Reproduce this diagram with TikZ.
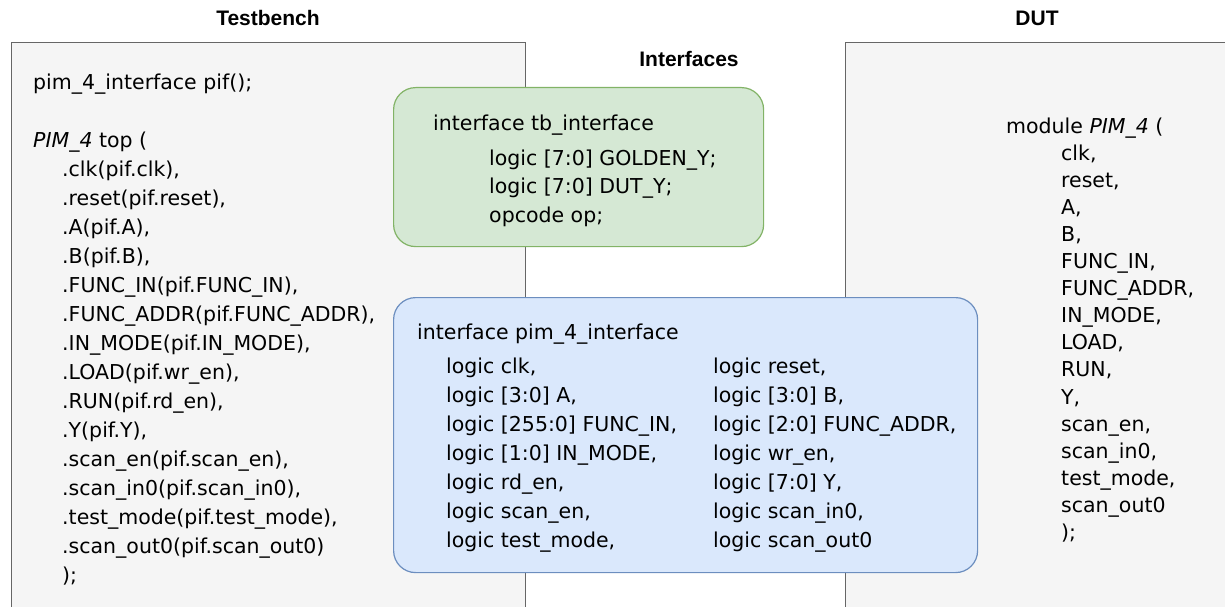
\documentclass[tikz,border=0pt]{standalone}
\usepackage{fontspec}
\setmainfont{DejaVu Sans}
\newfontfamily\headfont{Liberation Sans}
\usepackage{xcolor}
\usepackage{tikz}

\definecolor{panelfill}{HTML}{F5F5F5}
\definecolor{panelline}{HTML}{666666}
\definecolor{tbfill}{HTML}{D5E8D4}
\definecolor{tbline}{HTML}{82B366}
\definecolor{piffill}{HTML}{DAE8FC}
\definecolor{pifline}{HTML}{6C8EBF}

\tikzset{
  panel/.style={draw=panelline, fill=panelfill, line width=1.2pt, anchor=north west, inner sep=0pt},
  ifbox/.style={rounded corners=22pt, line width=1.2pt, anchor=north west, inner sep=0pt},
  code/.style={anchor=base west, inner sep=0pt, font=\fontsize{20.5}{29}\selectfont},
  heading/.style={inner sep=0pt, font=\headfont\bfseries\fontsize{21}{25}\selectfont}
}

\begin{document}
\begin{tikzpicture}[x=1pt, y=-1pt]
			\useasboundingbox (0,0) rectangle (1225,607);
			\clip (0,0) rectangle (1225,607);
			% panels
			\node[panel, minimum width=514pt, minimum height=620pt] (tb) at (11,42) {};
			\node[panel, minimum width=420pt, minimum height=620pt] (dut) at (845,42) {};
			\node[heading] (tbtitle) at (268,18) {Testbench};
			\node[heading] (duttitle) at (1037,18) {DUT};
			\node[heading] (iftitle) at (689,59) {Interfaces};
			% testbench code
			\node[code] (tb0) at (33,90) {pim\_4\_interface pif();};
			\node[code] (tb1) at (33,147) {\textit{PIM\_4} top (};
			\foreach \p [count=\i] in {{.clk(pif.clk),}, {.reset(pif.reset),}, {.A(pif.A),}, {.B(pif.B),},
				{.FUNC\_IN(pif.FUNC\_IN),}, {.FUNC\_ADDR(pif.FUNC\_ADDR),}, {.IN\_MODE(pif.IN\_MODE),},
				{.LOAD(pif.wr\_en),}, {.RUN(pif.rd\_en),}, {.Y(pif.Y),}, {.scan\_en(pif.scan\_en),},
				{.scan\_in0(pif.scan\_in0),}, {.test\_mode(pif.test\_mode),}, {.scan\_out0(pif.scan\_out0)}, {);}}
				\node[code] (tbport\i) at (62,147+29*\i) {\p};
			% DUT code
			\node[code] (mod) at (1006,133) {module \textit{PIM\_4} (};
			\foreach \p [count=\i] in {{clk,}, {reset,}, {A,}, {B,}, {FUNC\_IN,}, {FUNC\_ADDR,}, {IN\_MODE,},
				{LOAD,}, {RUN,}, {Y,}, {scan\_en,}, {scan\_in0,}, {test\_mode,}, {scan\_out0}, {);}}
				\node[code] (dutport\i) at (1061,133+27.1*\i) {\p};
			% tb_interface
			\node[ifbox, draw=tbline, fill=tbfill, minimum width=370pt, minimum height=159pt] (tbif) at (393,87) {};
			\node[code] (tbifname) at (433,131) {interface tb\_interface};
			\node[code] (gold) at (489,165) {logic [7:0] GOLDEN\_Y;};
			\node[code] (duty) at (489,193.5) {logic [7:0] DUT\_Y;};
			\node[code] (op) at (489,222) {opcode op;};
			% pim_4_interface
			\node[ifbox, draw=pifline, fill=piffill, minimum width=584pt, minimum height=275pt] (pif) at (393,297) {};
			\node[code] (pifname) at (417,339) {interface pim\_4\_interface};
			\foreach \p [count=\i] in {{logic clk,}, {logic [3:0] A,}, {logic [255:0] FUNC\_IN,}, {logic [1:0] IN\_MODE,},
				{logic rd\_en,}, {logic scan\_en,}, {logic test\_mode,}}
				\node[code] (sigl\i) at (446,344+29*\i) {\p};
			\foreach \p [count=\i] in {{logic reset,}, {logic [3:0] B,}, {logic [2:0] FUNC\_ADDR,}, {logic wr\_en,},
				{logic [7:0] Y,}, {logic scan\_in0,}, {logic scan\_out0}}
				\node[code] (sigr\i) at (713,344+29*\i) {\p};
		\end{tikzpicture}
\end{document}
